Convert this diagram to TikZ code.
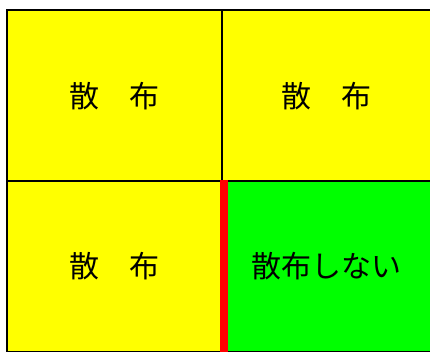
\documentclass[tikz,border=0pt]{standalone}
\usepackage{xcolor}
\usepackage{fontspec}
\usepackage{tikz}
\newfontfamily\jpfont{Noto Sans CJK JP}
\definecolor{sprayyellow}{RGB}{255,255,0}
\definecolor{nospraygreen}{RGB}{0,255,0}
\definecolor{borderred}{RGB}{255,0,0}
\tikzset{
  cell/.style={draw=black, line width=1.5pt, anchor=north west, inner sep=0pt,
    minimum height=171pt, font=\jpfont\fontsize{30}{30}\selectfont},
}

\begin{document}
\begin{tikzpicture}[x=1pt,y=-1pt]
    \useasboundingbox (0,0) rectangle (430,352);

    \node[cell, fill=sprayyellow, minimum width=215pt] (topleft) at (6,9.5) {散　布};
    \node[cell, fill=sprayyellow, minimum width=210pt] (topright) at (221,9.5) {散　布};
    \node[cell, fill=sprayyellow, minimum width=215pt, minimum height=170pt] (botleft) at (6,180.5) {散　布};
    \node[cell, fill=nospraygreen, minimum width=210pt, minimum height=170pt] (botright) at (221,180.5) {散布しない};

    \draw[borderred, line width=8pt] ([xshift=1pt]botleft.north east) -- ([xshift=1pt]botleft.south east);
  \end{tikzpicture}
\end{document}
